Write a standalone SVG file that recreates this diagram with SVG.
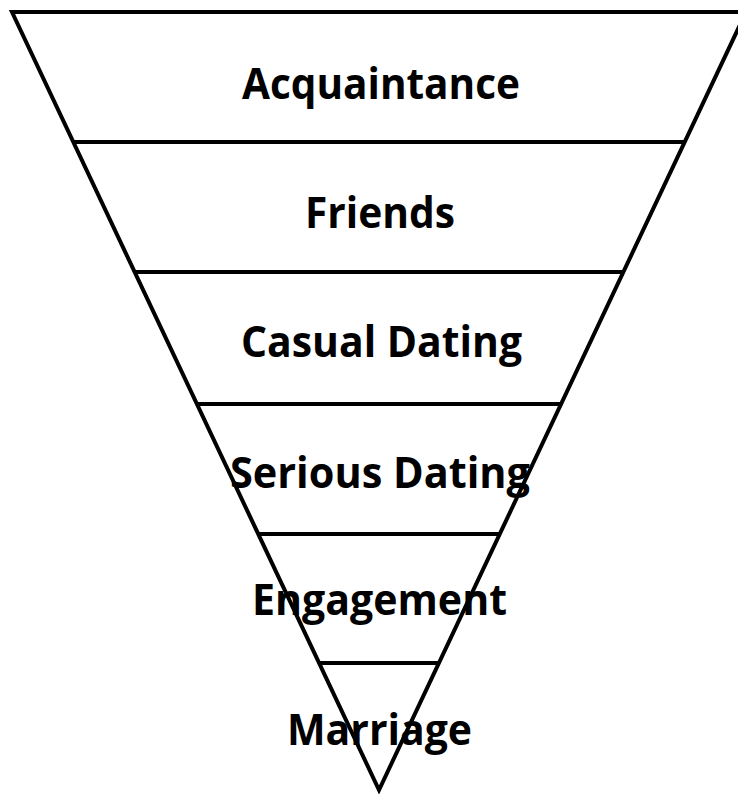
<svg xmlns="http://www.w3.org/2000/svg" width="738" height="794" viewBox="0 0 738 794">
<style>
.edge{stroke:#000;stroke-width:4;fill:none;stroke-linejoin:miter}
.lbl{font-family:"Open Sans","Noto Sans","Liberation Sans",sans-serif;font-weight:bold;font-size:43px;fill:#000}
</style>
<rect width="738" height="794" fill="#fff"/>
<g id="connectors">
<polygon class="edge" points="12,12 746,12 379,790"/>
<line class="edge" x1="73" y1="142" x2="685" y2="142"/>
<line class="edge" x1="134" y1="272" x2="624" y2="272"/>
<line class="edge" x1="197" y1="404" x2="561" y2="404"/>
<line class="edge" x1="258" y1="534" x2="500" y2="534"/>
<line class="edge" x1="319" y1="663" x2="439" y2="663"/>
</g>
<g id="acquaintance"><text class="lbl" x="242" y="99" textLength="278" lengthAdjust="spacingAndGlyphs">Acquaintance</text></g>
<g id="friends"><text class="lbl" x="305" y="228" textLength="150" lengthAdjust="spacingAndGlyphs">Friends</text></g>
<g id="casual-dating"><text class="lbl" x="241" y="357" textLength="281" lengthAdjust="spacingAndGlyphs">Casual Dating</text></g>
<g id="serious-dating"><text class="lbl" x="230" y="488" textLength="300" lengthAdjust="spacingAndGlyphs">Serious Dating</text></g>
<g id="engagement"><text class="lbl" x="252" y="615" textLength="255" lengthAdjust="spacingAndGlyphs">Engagement</text></g>
<g id="marriage"><text class="lbl" x="287" y="745" textLength="185" lengthAdjust="spacingAndGlyphs">Marriage</text></g>
</svg>
